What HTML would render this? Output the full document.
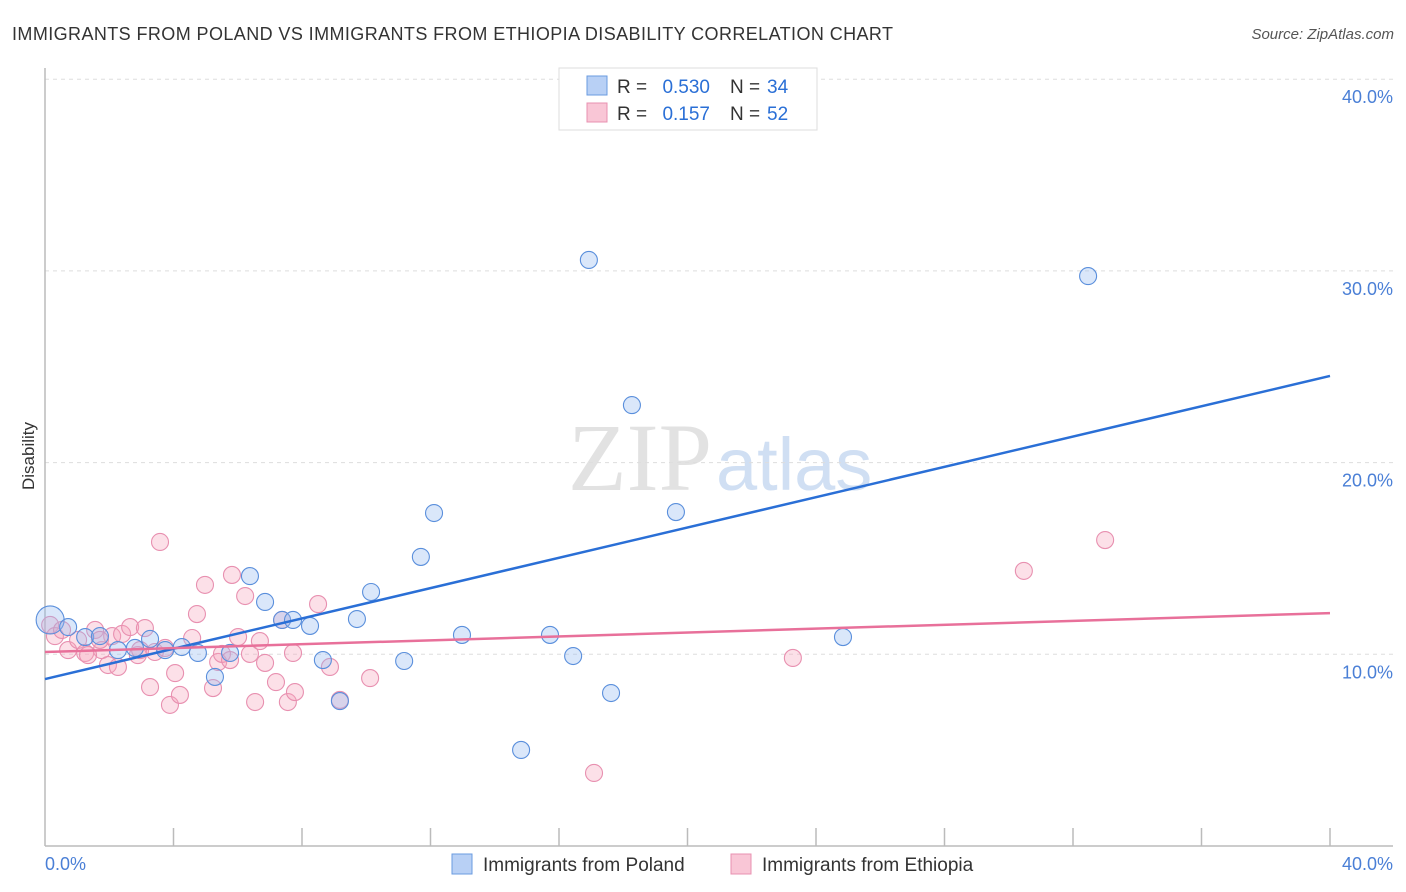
<!DOCTYPE html>
<html><head><meta charset="utf-8">
<style>
body{margin:0;background:#fff;font-family:"Liberation Sans",sans-serif;}
svg{display:block}
</style></head>
<body>
<svg id="chart" width="1406" height="892">
<text x="12" y="40" font-size="18" fill="#333" textLength="881" lengthAdjust="spacing">IMMIGRANTS FROM POLAND VS IMMIGRANTS FROM ETHIOPIA DISABILITY CORRELATION CHART</text>
<text x="1394" y="39" font-size="15" fill="#555" font-style="italic" text-anchor="end">Source: ZipAtlas.com</text>
<text x="712" y="490" font-size="96" fill="#e2e2e2" text-anchor="end" font-family="Liberation Serif">ZIP</text>
<text x="716" y="490" font-size="74" fill="#d0dff3">atlas</text>
<text x="34" y="456" font-size="17" fill="#333" text-anchor="middle" transform="rotate(-90 34 456)">Disability</text>
<g id="grid"></g>
<g id="ticks"></g>
<line x1="45" y1="68" x2="45" y2="846" stroke="#bbb" stroke-width="1.5"/>
<line x1="45" y1="846" x2="1393" y2="846" stroke="#bbb" stroke-width="1.5"/>
<g id="pts"></g>
<g id="lines"></g>
<text x="45" y="870" font-size="18" fill="#4a7fd6">0.0%</text>
<text x="1393" y="870" font-size="18" fill="#4a7fd6" text-anchor="end">40.0%</text>
<g>
<rect x="559" y="68" width="258" height="62" fill="#fff" stroke="#ddd"/>
<rect x="587" y="76" width="20" height="19" fill="#b8d0f5" stroke="#6a9be0"/>
<rect x="587" y="103" width="20" height="19" fill="#f9c6d6" stroke="#e890b0"/>
<text x="617" y="93" font-size="19" fill="#333">R =</text>
<text x="710" y="93" font-size="19" fill="#2a6fd6" text-anchor="end">0.530</text>
<text x="730" y="93" font-size="19" fill="#333">N =</text>
<text x="767" y="93" font-size="19" fill="#2a6fd6">34</text>
<text x="617" y="120" font-size="19" fill="#333">R =</text>
<text x="710" y="120" font-size="19" fill="#2a6fd6" text-anchor="end">0.157</text>
<text x="730" y="120" font-size="19" fill="#333">N =</text>
<text x="767" y="120" font-size="19" fill="#2a6fd6">52</text>
</g>
<g>
<rect x="452" y="854" width="20" height="20" fill="#b8d0f5" stroke="#6a9be0"/>
<text x="483" y="871" font-size="19" fill="#333">Immigrants from Poland</text>
<rect x="731" y="854" width="20" height="20" fill="#f9c6d6" stroke="#e890b0"/>
<text x="762" y="871" font-size="19" fill="#333">Immigrants from Ethiopia</text>
</g>
</svg>
<script>
const yTicks=[10,20,30,40];
const yTickLabels=["10.0%","20.0%","30.0%","40.0%"];
const xTicks=[4,8,12,16,20,24,28,32,36,40];
const polandX=[.16,.72,1.25,1.71,2.27,2.8,3.27,3.74,4.26,4.76,5.29,5.76,6.38,6.85,7.38,7.72,8.25,8.65,9.18,9.71,10.15,11.18,11.7,12.11,12.98,14.82,15.72,16.44,16.93,17.62,18.27,19.64,24.84,32.47];
const polandY=[11.79,11.42,10.9,10.95,10.22,10.33,10.8,10.22,10.38,10.07,8.82,10.07,14.08,12.73,11.79,11.79,11.48,9.7,7.56,11.84,13.25,9.65,15.08,17.37,11.01,5.01,11.01,9.91,30.57,7.98,23.0,17.42,10.9,29.73];
const ethX=[.16,.31,.53,.72,1.03,1.25,1.56,1.77,1.96,2.09,2.27,2.4,2.65,2.89,3.11,3.27,3.42,3.58,3.74,3.89,4.05,4.2,4.58,4.73,4.98,5.23,5.39,5.51,5.82,6.01,6.23,6.38,6.54,6.69,6.85,7.19,7.38,7.56,7.72,7.78,8.5,8.87,9.18,10.12,23.28,30.47,33.0,17.09,1.71,1.34,2.96,5.76];
const ethY=[11.53,10.95,11.27,10.22,10.75,10.07,11.27,10.22,9.44,10.95,9.34,11.06,11.42,9.96,11.37,8.29,10.12,15.86,10.33,7.36,9.02,7.88,10.85,12.1,13.62,8.24,9.6,10.02,14.14,10.9,13.04,10.02,7.51,10.69,9.55,8.55,11.79,7.51,10.07,8.03,12.62,9.34,7.62,8.76,9.81,14.35,15.96,3.81,10.75,9.96,10.22,9.7];
const polandTrend=[8.71,24.52];
const ethTrend=[10.12,12.15];
const NS="http://www.w3.org/2000/svg";
const sx=v=>45+v*32.125, sy=v=>846-v*19.17;
function mk(tag,attrs,parent){const e=document.createElementNS(NS,tag);for(const k in attrs)e.setAttribute(k,attrs[k]);document.getElementById(parent).appendChild(e);return e;}
yTicks.forEach((t,i)=>{
 const l=mk('line',{x1:45,x2:1393,y1:sy(t),y2:sy(t),stroke:'#ddd','stroke-dasharray':'4,4'},'grid');
 
 
 const tx=mk('text',{x:1393,y:sy(t)+24,'font-size':18,fill:'#4a7fd6','text-anchor':'end'},'grid');
 tx.textContent=yTickLabels[i];
 
 
});
xTicks.forEach(t=>{
 const l=mk('line',{x1:sx(t),x2:sx(t),y1:828,y2:846,stroke:'#bbb','stroke-width':1.5},'ticks');
 
 
});
ethX.forEach((x,i)=>{
 const c=mk('circle',{cx:sx(x),cy:sy(ethY[i]),r:8.5,fill:'rgba(245,165,190,0.35)',stroke:'#e890b0','stroke-width':1.1},'pts');
 
 
});
polandX.forEach((x,i)=>{
 const c=mk('circle',{cx:sx(x),cy:sy(polandY[i]),r:i===0?14:8.5,fill:'rgba(150,185,240,0.35)',stroke:'#5a8fdc','stroke-width':1.1},'pts');
 
 
});
const lb=mk('line',{x1:sx(0),y1:sy(polandTrend[0]),x2:sx(40),y2:sy(polandTrend[1]),stroke:'#2a6fd6','stroke-width':2.5},'lines');


const lp=mk('line',{x1:sx(0),y1:sy(ethTrend[0]),x2:sx(40),y2:sy(ethTrend[1]),stroke:'#e8709a','stroke-width':2.5},'lines');


</script>
</body></html>
